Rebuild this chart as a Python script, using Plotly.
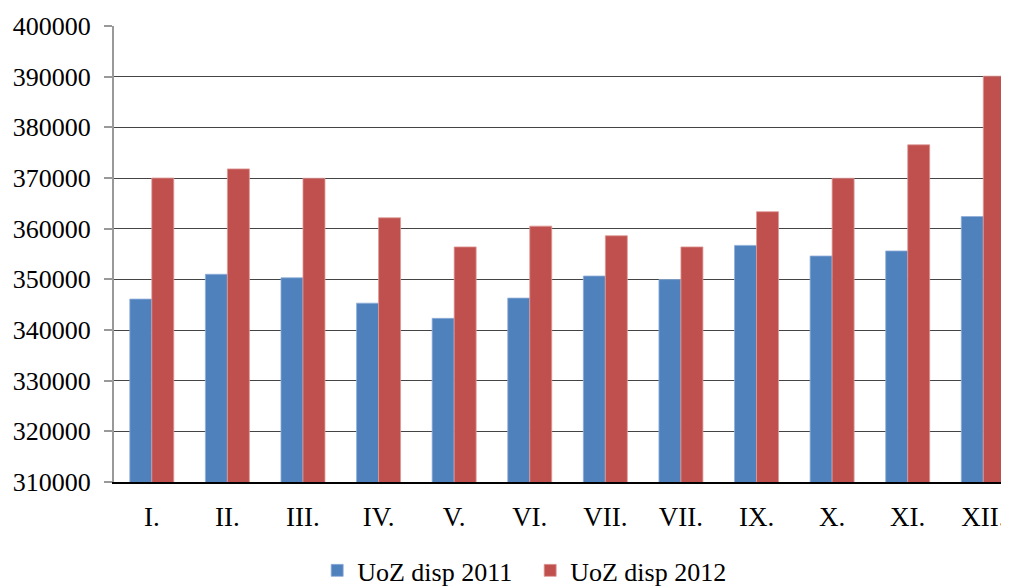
import plotly.graph_objects as go

months = ["I.", "II.", "III.", "IV.", "V.", "VI.", "VII.", "VII.", "IX.", "X.", "XI.", "XII."]
uoz_2011 = [346100, 351000, 350300, 345300, 342300, 346300, 350650, 349950, 356700, 354600, 355600, 362400]
uoz_2012 = [370000, 371800, 369950, 362150, 356400, 360500, 358600, 356400, 363350, 369950, 376550, 390100]

x_idx = list(range(len(months)))
font_family = "Liberation Serif, Times New Roman, serif"

fig = go.Figure()
fig.add_trace(go.Bar(x=x_idx, y=uoz_2011, name="UoZ disp 2011",
                     marker=dict(color="#4F81BD", line=dict(color="#8FAFD8", width=0.8))))
fig.add_trace(go.Bar(x=x_idx, y=uoz_2012, name="UoZ disp 2012",
                     marker=dict(color="#C0504D", line=dict(color="#DD9A98", width=0.8))))

# page body has an 8px default margin, so figure is 1001x578 with offsets compensated
fig.update_layout(
    width=1001, height=578,
    margin=dict(l=106, r=0, t=18, b=104, autoexpand=False),
    paper_bgcolor="white", plot_bgcolor="white",
    font=dict(family=font_family, size=26, color="black"),
    barmode="group", bargap=0.418, bargroupgap=0,
    showlegend=True,
    legend=dict(orientation="h", x=0.465, xanchor="center", y=-0.194, yanchor="middle",
                font=dict(family=font_family, size=26, color="black"),
                traceorder="normal", entrywidth=168, entrywidthmode="pixels"),
)
fig.update_xaxes(
    range=[-0.5, 11.34], automargin=False,
    tickmode="array", tickvals=x_idx, ticktext=months,
    showgrid=False, zeroline=False,
    showline=True, linecolor="#000000", linewidth=1.5,
    ticks="", ticklabelstandoff=10,
    tickfont=dict(family=font_family, size=27, color="black"),
)
fig.update_yaxes(
    range=[310000, 400000], dtick=10000, tick0=310000, automargin=False,
    tickformat="d",
    showgrid=True, gridcolor="#444444", gridwidth=1.3,
    zeroline=False,
    showline=True, linecolor="#999999", linewidth=2,
    ticks="outside", ticklen=8, tickcolor="#999999", tickwidth=2,
    ticklabelstandoff=8,
    tickfont=dict(family=font_family, size=26, color="black"),
)

fig.write_html("out.html")
